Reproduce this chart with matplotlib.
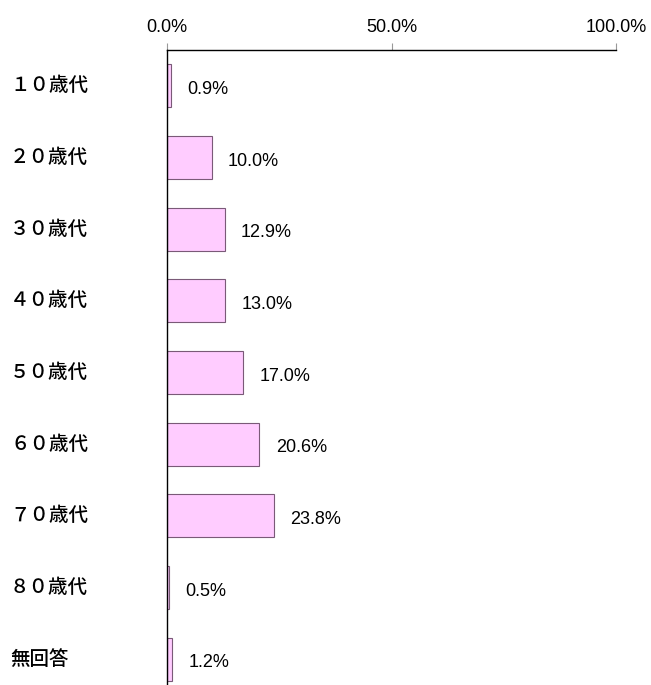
import matplotlib.pyplot as plt
from matplotlib import font_manager

categories = ["１０歳代", "２０歳代", "３０歳代", "４０歳代", "５０歳代",
              "６０歳代", "７０歳代", "８０歳代", "無回答"]
values = [0.9, 10.0, 12.9, 13.0, 17.0, 20.6, 23.8, 0.5, 1.2]
xticks = [0, 50, 100]
xticklabels = ["0.0%", "50.0%", "100.0%"]

names = {f.name for f in font_manager.fontManager.ttflist}
num_font = "Liberation Sans Narrow" if "Liberation Sans Narrow" in names else "Liberation Sans"

fig = plt.figure(figsize=(6.51, 6.85), dpi=100)
ax = fig.add_axes([167 / 651, -10 / 685, 449 / 651, 645 / 685])

y = list(range(len(categories)))
ax.barh(y, values, height=0.6, color="#FFCCFF", edgecolor="#7a5a78", linewidth=0.8)
ax.set_xlim(0, 100)
ax.set_ylim(len(categories) - 0.5, -0.5)

ax.xaxis.tick_top()
ax.set_xticks(xticks)
ax.set_xticklabels(xticklabels, fontsize=13, family=num_font)
ax.tick_params(axis="x", direction="out", length=5, color="#999999", pad=5)
ax.set_yticks([])

for s in ["right", "bottom"]:
    ax.spines[s].set_visible(False)
ax.spines["top"].set_linewidth(1)
ax.spines["left"].set_linewidth(1)

for i, (cat, v) in enumerate(zip(categories, values)):
    ax.text(v + 3.6, i + 0.05, f"{v:.1f}%", va="center", ha="left",
            fontsize=13, family=num_font)
    ax.annotate(cat, xy=(0, i), xycoords=("figure fraction", "data"),
                xytext=(10, 0), textcoords="offset pixels",
                va="center", ha="left", fontsize=14, weight="medium",
                family=["Noto Sans CJK JP", "DejaVu Sans"])

fig.savefig("out.png", dpi=100)
